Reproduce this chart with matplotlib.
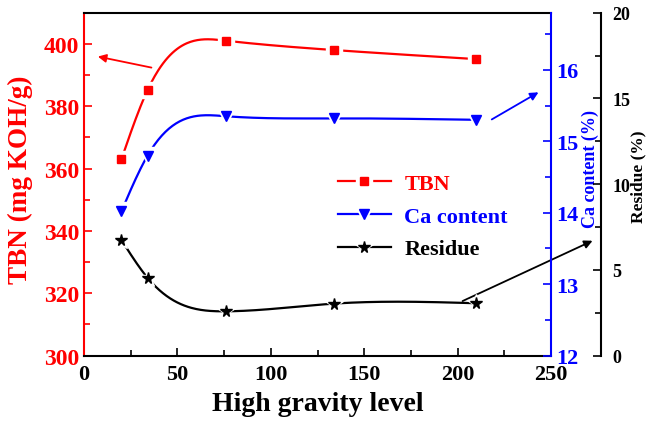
import numpy as np
import matplotlib
matplotlib.use("Agg")
import matplotlib.pyplot as plt
from matplotlib.ticker import MultipleLocator
from matplotlib.legend_handler import HandlerTuple

plt.rcParams['font.family'] = ['Liberation Serif', 'DejaVu Serif']
plt.rcParams['font.weight'] = 'bold'

# datos
nivel_g = [20, 34, 76, 134, 210]
tbn = [363.0, 385.2, 401.0, 398.0, 395.1]
calcio = [14.02, 14.80, 15.35, 15.32, 15.30]
residuo = [6.74, 4.53, 2.58, 3.03, 3.05]

ROJO = '#ff0000'
AZUL = '#0000ff'
NEGRO = '#000000'


def spline_natural(x, y, n=300):
    """Spline cubica natural para suavizar la curva entre puntos."""
    x = np.asarray(x, float)
    y = np.asarray(y, float)
    k = len(x)
    h = np.diff(x)
    A = np.zeros((k, k))
    b = np.zeros(k)
    A[0, 0] = A[-1, -1] = 1
    for i in range(1, k - 1):
        A[i, i - 1] = h[i - 1]
        A[i, i] = 2 * (h[i - 1] + h[i])
        A[i, i + 1] = h[i]
        b[i] = 6 * ((y[i + 1] - y[i]) / h[i] - (y[i] - y[i - 1]) / h[i - 1])
    M = np.linalg.solve(A, b)
    xs = np.linspace(x[0], x[-1], n)
    ys = np.empty_like(xs)
    for j, xv in enumerate(xs):
        i = min(np.searchsorted(x, xv, side='right') - 1, k - 2)
        t1 = x[i + 1] - xv
        t0 = xv - x[i]
        ys[j] = (M[i] * t1**3 / (6 * h[i]) + M[i + 1] * t0**3 / (6 * h[i])
                 + (y[i] / h[i] - M[i] * h[i] / 6) * t1
                 + (y[i + 1] / h[i] - M[i + 1] * h[i] / 6) * t0)
    return xs, ys


def serie(ax, x, y, color, marcador, ms, etiqueta):
    xs, ys = spline_natural(x, y)
    linea, = ax.plot(xs, ys, color=color, lw=1.6, zorder=2)
    halo, = ax.plot(x, y, ls='none', marker=marcador, ms=ms + 5,
                    color='white', mec='white', zorder=3)
    punto, = ax.plot(x, y, ls='none', marker=marcador, ms=ms,
                     color=color, mec=color, zorder=4, label=etiqueta)
    return (linea, halo, punto)


fig = plt.figure(figsize=(6.47, 4.27), dpi=100)
ax = fig.add_axes([0.130, 0.165, 0.7216, 0.803])
ax2 = ax.twinx()
ax3 = ax.twinx()

h1 = serie(ax, nivel_g, tbn, ROJO, 's', 6, 'TBN')
h2 = serie(ax2, nivel_g, calcio, AZUL, 'v', 7.5, 'Ca content')
h3 = serie(ax3, nivel_g, residuo, NEGRO, '*', 8.5, 'Residue')

ax.set_xlim(0, 250)
ax.set_ylim(300, 410)
ax2.set_ylim(12, 16.8)
ax3.set_ylim(0, 20)

# eje x
ax.xaxis.set_major_locator(MultipleLocator(50))
ax.xaxis.set_minor_locator(MultipleLocator(25))
ax.tick_params(axis='x', which='both', direction='in', top=False,
               labelsize=16, width=1.2, pad=6)
ax.tick_params(axis='x', which='major', length=6)
ax.tick_params(axis='x', which='minor', length=4)
ax.set_xlabel('High gravity level', fontsize=20, fontweight='bold', labelpad=5)

# eje TBN
ax.yaxis.set_major_locator(MultipleLocator(20))
ax.yaxis.set_minor_locator(MultipleLocator(10))
ax.tick_params(axis='y', which='both', direction='in', colors=ROJO,
               labelsize=17, width=1.2)
ax.tick_params(axis='y', which='major', length=6)
ax.tick_params(axis='y', which='minor', length=4)
ax.set_ylabel('TBN (mg KOH/g)', fontsize=19.5, fontweight='bold', color=ROJO)
ax.yaxis.set_label_coords(-0.109, 0.515)

# eje Ca
ax2.yaxis.set_major_locator(MultipleLocator(1))
ax2.yaxis.set_minor_locator(MultipleLocator(0.5))
ax2.tick_params(axis='y', which='both', direction='in', colors=AZUL,
                labelsize=16, width=1.2)
ax2.tick_params(axis='y', which='major', length=6)
ax2.tick_params(axis='y', which='minor', length=4)
ax2.set_ylabel('Ca content (%)', fontsize=13, fontweight='bold', color=AZUL)
ax2.yaxis.set_label_coords(1.066, 0.547)

# eje Residuo
ax3.spines['right'].set_position(('outward', 36))
ax3.yaxis.set_major_locator(MultipleLocator(5))
ax3.yaxis.set_minor_locator(MultipleLocator(2.5))
ax3.tick_params(axis='y', which='both', direction='in', colors=NEGRO,
                labelsize=13, width=1.2, pad=8)
ax3.tick_params(axis='y', which='major', length=6)
ax3.tick_params(axis='y', which='minor', length=4)
ax3.set_ylabel('Residue (%)', fontsize=12.5, fontweight='bold', color=NEGRO)
ax3.yaxis.set_label_coords(1.171, 0.524)

for a in (ax, ax2, ax3):
    for s in a.spines.values():
        s.set_linewidth(1.5)
        s.set_visible(False)
ax.spines['left'].set_visible(True)
ax.spines['left'].set_color(ROJO)
ax.spines['bottom'].set_visible(True)
ax.spines['top'].set_visible(True)
ax2.spines['right'].set_visible(True)
ax2.spines['right'].set_color(AZUL)
ax3.spines['right'].set_visible(True)
ax3.spines['right'].set_color(NEGRO)

# flechas que indican el eje de cada serie
flecha = dict(arrowstyle='-|>', lw=1.3, mutation_scale=12)
ax.annotate('', xy=(5.9, 396.1), xytext=(37.5, 392.2),
            arrowprops=dict(flecha, color=ROJO), annotation_clip=False)
ax.annotate('', xy=(244.6, 384.9), xytext=(217.0, 375.3),
            arrowprops=dict(flecha, color=AZUL), annotation_clip=False)
ax.annotate('', xy=(273.6, 337.2), xytext=(201.3, 317.1),
            arrowprops=dict(flecha, color=NEGRO), annotation_clip=False,
            zorder=10)

leg = ax3.legend([h1, h2, h3], ['TBN', 'Ca content', 'Residue'],
                 handler_map={tuple: HandlerTuple(ndivide=1, pad=0)},
                 loc='upper left', bbox_to_anchor=(0.5, 0.59), frameon=False,
                 prop={'size': 16, 'weight': 'bold'}, handlelength=2.4,
                 handletextpad=0.6, labelspacing=0.55)
for t, c in zip(leg.get_texts(), (ROJO, AZUL, NEGRO)):
    t.set_color(c)

fig.savefig('out.png', dpi=100)
